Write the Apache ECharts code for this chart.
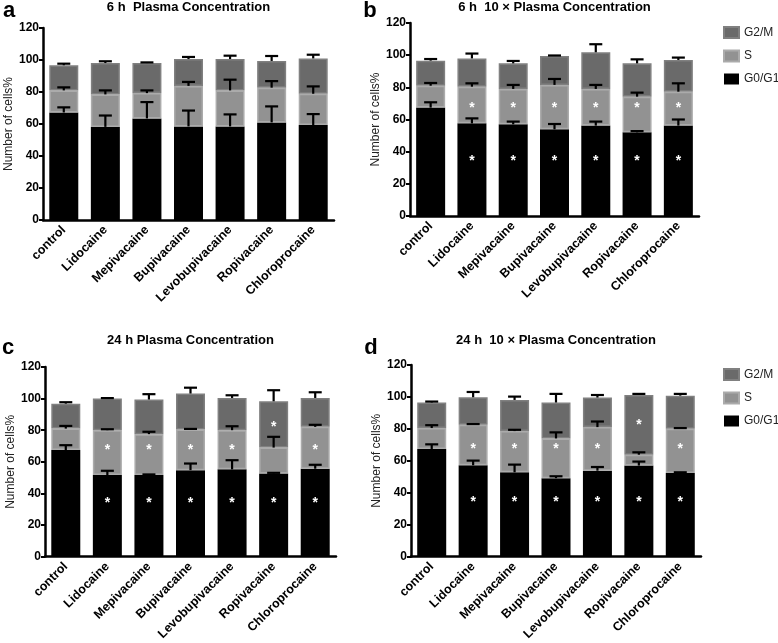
<!DOCTYPE html>
<html>
<head>
<meta charset="utf-8">
<script src="https://cdn.jsdelivr.net/npm/echarts@6/dist/echarts.min.js"></script>
<style>
  html, body { margin: 0; padding: 0; background: #fff; }
  #chart { width: 778px; height: 643px; }
</style>
</head>
<body>
<div id="chart"></div>
<script>
// categories
var drugs = ['control', 'Lidocaine', 'Mepivacaine', 'Bupivacaine', 'Levobupivacaine', 'Ropivacaine', 'Chloroprocaine']
var titles = ['6 h  Plasma Concentration', '6 h  10 × Plasma Concentration', '24 h Plasma Concentration', '24 h  10 × Plasma Concentration']
var yTicks = [0, 20, 40, 60, 80, 100, 120]

// panel a: 6 h plasma
var g0_a = [67.2, 58.2, 63.5, 58.5, 58.5, 61.0, 59.3]
var g0Err_a = [3.2, 7.1, 10.2, 9.9, 7.5, 10.0, 6.9]
var s_a = [13.8, 20.3, 15.8, 25.3, 22.5, 21.7, 19.6]
var sErr_a = [1.9, 2.5, 1.7, 2.5, 6.7, 4.1, 4.6]
var g2_a = [15.7, 19.6, 18.8, 16.8, 19.6, 16.7, 22.1]
var g2Err_a = [1.0, 1.1, 0.4, 1.3, 2.1, 3.1, 2.3]

// panel b: 6 h 10x plasma
var g0_b = [67.4, 57.6, 57.0, 53.9, 56.2, 52.0, 56.2]
var g0Err_b = [3.3, 3.1, 1.7, 3.3, 2.5, 0.8, 3.8]
var s_b = [13.6, 22.8, 22.0, 27.6, 22.8, 22.2, 21.1]
var sErr_b = [1.7, 2.1, 2.5, 3.7, 2.5, 2.5, 5.2]
var g2_b = [15.6, 17.6, 15.9, 18.0, 22.8, 20.7, 19.7]
var g2Err_b = [1.0, 3.0, 1.5, 0.3, 5.0, 2.5, 1.5]

// panel c: 24 h plasma
var g0_c = [67.4, 51.6, 51.6, 54.7, 55.2, 52.6, 55.6]
var g0Err_c = [3.1, 2.7, 0.4, 4.2, 5.8, 0.4, 2.5]
var s_c = [13.6, 28.4, 25.9, 25.7, 24.8, 16.4, 26.5]
var sErr_c = [1.7, 0.6, 1.5, 0.4, 2.5, 6.8, 1.3]
var g2_c = [15.8, 20.0, 21.9, 22.8, 20.4, 29.3, 18.3]
var g2Err_c = [0.9, 0.3, 3.4, 3.7, 1.7, 7.0, 3.6]

// panel d: 24 h 10x plasma
var g0_d = [67.4, 57.2, 52.8, 49.1, 53.8, 57.0, 52.4]
var g0Err_d = [2.9, 2.9, 4.8, 1.2, 2.3, 2.5, 0.4]
var s_d = [13.1, 25.3, 25.8, 24.9, 27.3, 6.8, 27.6]
var sErr_d = [1.8, 0.5, 0.8, 3.8, 3.5, 1.5, 0.5]
var g2_d = [16.0, 17.3, 19.5, 22.5, 18.5, 37.4, 20.8]
var g2Err_d = [0.6, 3.3, 2.1, 5.4, 1.6, 0.7, 1.1]

// significance flags (1 = asterisk) per phase
var sigG0 = [
  [0, 0, 0, 0, 0, 0, 0],
  [0, 1, 1, 1, 1, 1, 1],
  [0, 1, 1, 1, 1, 1, 1],
  [0, 1, 1, 1, 1, 1, 1]
]
var sigS = [
  [0, 0, 0, 0, 0, 0, 0],
  [0, 1, 1, 1, 1, 1, 1],
  [0, 1, 1, 1, 1, 0, 1],
  [0, 1, 1, 1, 1, 0, 1]
]
var sigG2 = [
  [0, 0, 0, 0, 0, 0, 0],
  [0, 0, 0, 0, 0, 0, 0],
  [0, 0, 0, 0, 0, 1, 0],
  [0, 0, 0, 0, 0, 1, 0]
]

var panels = [
  { g0: g0_a, g0Err: g0Err_a, s: s_a, sErr: sErr_a, g2: g2_a, g2Err: g2Err_a },
  { g0: g0_b, g0Err: g0Err_b, s: s_b, sErr: sErr_b, g2: g2_b, g2Err: g2Err_b },
  { g0: g0_c, g0Err: g0Err_c, s: s_c, sErr: sErr_c, g2: g2_c, g2Err: g2Err_c },
  { g0: g0_d, g0Err: g0Err_d, s: s_d, sErr: sErr_d, g2: g2_d, g2Err: g2Err_d }
]

// layout
var grids = [
  { left: 43, top: 28, width: 291, height: 192 },
  { left: 410, top: 23, width: 289, height: 193 },
  { left: 45, top: 367, width: 291, height: 190 },
  { left: 411, top: 365, width: 290, height: 192 }
]
var letters = [['a', 9, 11], ['b', 370, 11], ['c', 8, 348], ['d', 371, 348]]
var starY = { g0: 36, s: 69, g2: 84 }
var FONT = 'Liberation Sans, Arial, sans-serif'

var colG0 = '#000000'
var colS = '#929292'
var colS_edge = '#ababab'
var colG2 = '#6a6a6a'
var colG2_edge = '#808080'

var chart = echarts.init(document.getElementById('chart'))

var xAxes = [], yAxes = [], series = [], graphics = []

grids.forEach(function (g, i) {
  xAxes.push({
    type: 'category', gridIndex: i, data: drugs,
    axisLine: { lineStyle: { color: '#000', width: 2.5 } },
    axisTick: { alignWithLabel: true, length: 5, lineStyle: { color: '#000', width: 2 } },
    axisLabel: { rotate: 45, margin: 8, color: '#000', fontWeight: 'bold', fontSize: 12.5, fontFamily: FONT, interval: 0 }
  })
  yAxes.push({
    type: 'value', gridIndex: i, min: 0, max: 120, interval: 20,
    name: 'Number of cells%', nameLocation: 'middle', nameGap: 28,
    nameTextStyle: { color: '#222', fontSize: 12, fontFamily: FONT },
    axisLine: { show: true, lineStyle: { color: '#000', width: 2.5 } },
    axisTick: { show: true, length: 4, lineStyle: { color: '#000', width: 2 } },
    axisLabel: { margin: 4, color: '#000', fontWeight: 'bold', fontSize: 12, fontFamily: FONT },
    splitLine: { show: false }
  })

  var p = panels[i]
  var stack = 'p' + i
  var common = { type: 'bar', stack: stack, xAxisIndex: i, yAxisIndex: i, barWidth: 29, animation: false }
  series.push(Object.assign({}, common, { name: 'G0/G1', data: p.g0, itemStyle: { color: colG0 } }))
  series.push(Object.assign({}, common, { name: 'S', data: p.s, itemStyle: { color: colS, borderColor: colS_edge, borderWidth: 1.5 } }))
  series.push(Object.assign({}, common, { name: 'G2/M', data: p.g2, itemStyle: { color: colG2, borderColor: colG2_edge, borderWidth: 1.5 } }))

  // error bars (upper only), drawn from each segment top
  var errData = []
  var stars = []
  for (var k = 0; k < drugs.length; k++) {
    var t0 = p.g0[k]
    var t1 = t0 + p.s[k]
    var t2 = t1 + p.g2[k]
    errData.push([k, t0, t0 + p.g0Err[k]])
    errData.push([k, t1, t1 + p.sErr[k]])
    errData.push([k, t2, t2 + p.g2Err[k]])
    if (sigG0[i][k]) stars.push([k, starY.g0])
    if (sigS[i][k]) stars.push([k, starY.s])
    if (sigG2[i][k]) stars.push([k, starY.g2])
  }
  series.push({
    type: 'custom', name: 'err' + i, xAxisIndex: i, yAxisIndex: i, z: 5, animation: false,
    encode: { x: 0, y: [1, 2] },
    data: errData,
    renderItem: function (params, api) {
      var a = api.coord([api.value(0), api.value(1)])
      var b = api.coord([api.value(0), api.value(2)])
      var st = { stroke: '#000', lineWidth: 2.2 }
      return {
        type: 'group', children: [
          { type: 'line', shape: { x1: a[0], y1: a[1], x2: b[0], y2: b[1] }, style: st },
          { type: 'line', shape: { x1: b[0] - 6.5, y1: b[1], x2: b[0] + 6.5, y2: b[1] }, style: st }
        ]
      }
    }
  })
  series.push({
    type: 'custom', name: 'star' + i, xAxisIndex: i, yAxisIndex: i, z: 6, animation: false,
    encode: { x: 0, y: 1 },
    data: stars,
    renderItem: function (params, api) {
      var c = api.coord([api.value(0), api.value(1)])
      return {
        type: 'text', x: c[0], y: c[1] + 3,
        style: { text: '*', fill: '#fff', font: 'bold 14px ' + FONT, align: 'center', verticalAlign: 'middle' }
      }
    }
  })

  graphics.push({
    type: 'text', x: g.left + g.width / 2, y: i < 2 ? 7 : 340,
    style: { text: titles[i], fill: '#000', font: 'bold 13px ' + FONT, align: 'center', verticalAlign: 'middle' }
  })
})

letters.forEach(function (l) {
  graphics.push({
    type: 'text', x: l[1], y: l[2],
    style: { text: l[0], fill: '#000', font: 'bold 22px ' + FONT, align: 'center', verticalAlign: 'middle' }
  })
})

var legendBase = {
  data: ['G2/M', 'S', 'G0/G1'], orient: 'vertical', left: 723, padding: 0,
  icon: 'rect', itemWidth: 15, itemHeight: 11, itemGap: 10.5,
  textStyle: { color: '#222', fontSize: 12, fontFamily: FONT, overflow: 'none' }
}

chart.setOption({
  animation: false,
  grid: grids,
  xAxis: xAxes,
  yAxis: yAxes,
  legend: [
    Object.assign({}, legendBase, { top: 26 }),
    Object.assign({}, legendBase, { top: 368 })
  ],
  graphic: graphics,
  series: series
})
</script>
</body>
</html>
